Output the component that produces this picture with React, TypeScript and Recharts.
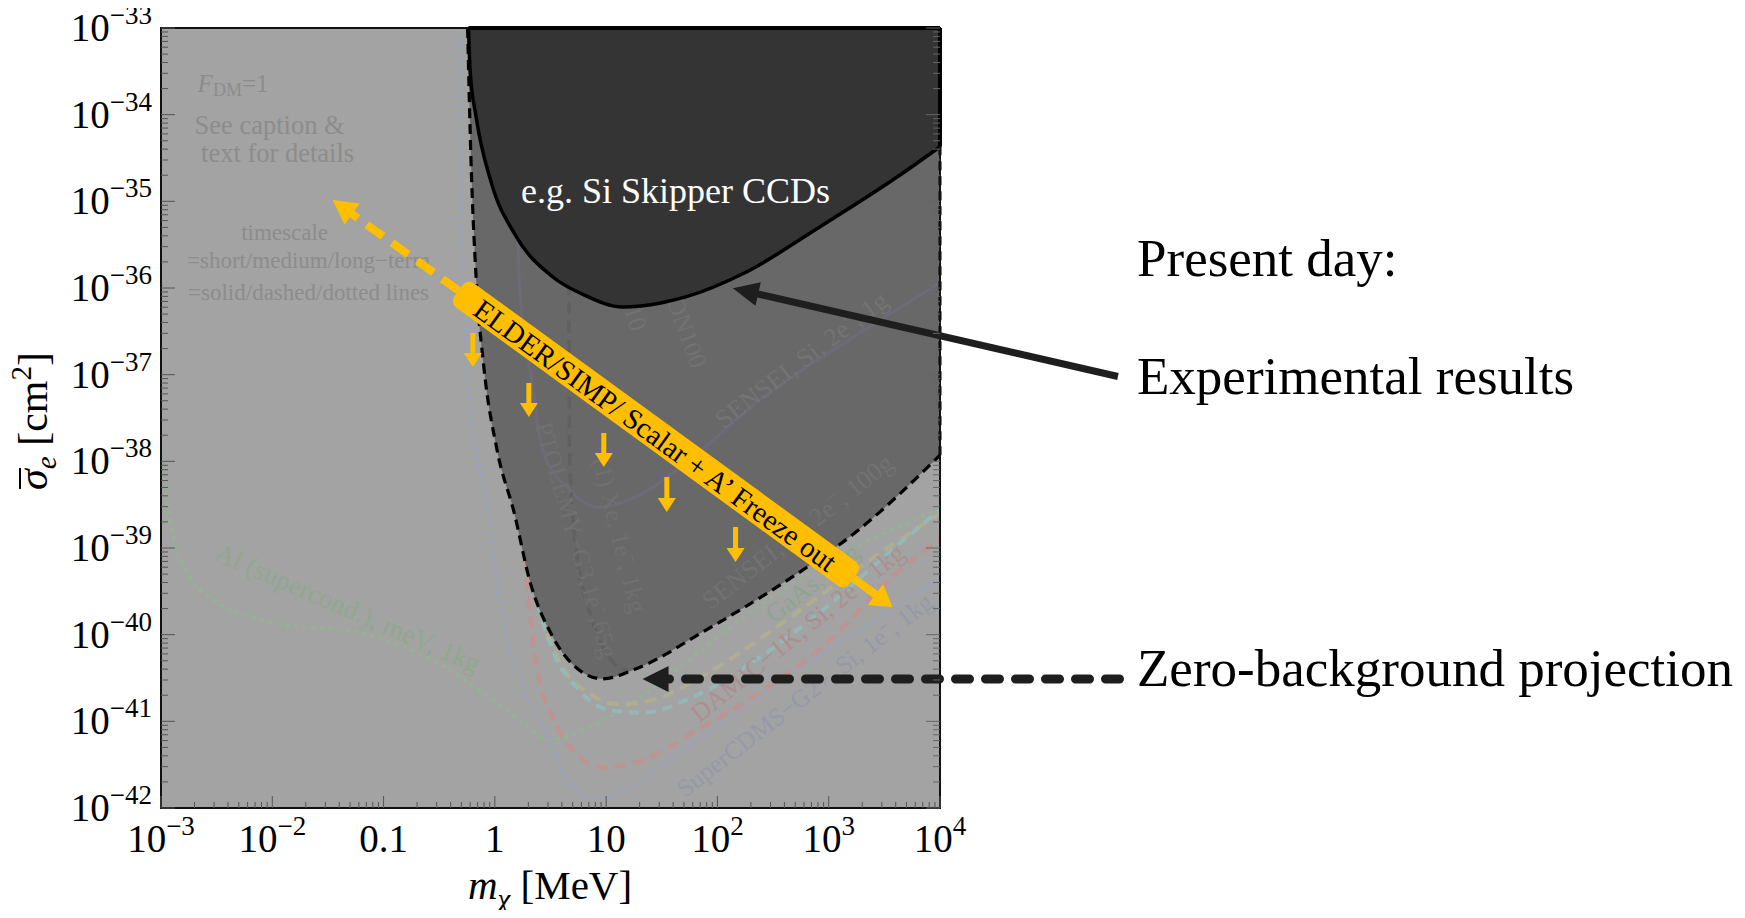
import React from "react";
import {
  ComposedChart,
  Area,
  Line,
  XAxis,
  YAxis,
  CartesianGrid,
  ReferenceArea,
  ReferenceLine,
  ReferenceDot,
} from "recharts";

const FONT = '"Liberation Serif", "Times New Roman", Times, serif';
const YELLOW = "#ffbf00";
const INK = "#1e1e1e";

// everything is plotted in log10 units
const TOP = -33;
const BOTTOM = -42;
const M_MIN = -3;
const M_MAX = 4;

// x axis: log10(m_chi / MeV)
const xDecades = [-3, -2, -1, 0, 1, 2, 3, 4];
const xDecadeLabels: [string, string][] = [
  ["10", "−3"],
  ["10", "−2"],
  ["0.1", ""],
  ["1", ""],
  ["10", ""],
  ["10", "2"],
  ["10", "3"],
  ["10", "4"],
];

// y axis: log10(sigma_e / cm^2)
const yDecades = [-42, -41, -40, -39, -38, -37, -36, -35, -34, -33];
const yDecadeLabels = ["−42", "−41", "−40", "−39", "−38", "−37", "−36", "−35", "−34", "−33"];

// Si skipper-CCD exclusion (solid boundary)
const skipperM = [-0.237, -0.222, -0.169, -0.031, 0.175, 0.518, 0.8, 1.15, 1.5, 1.722, 2.238, 2.926, 3.614, 4.0];
const skipperS = [-33, -33.5, -34.02, -34.79, -35.37, -35.87, -36.08, -36.22, -36.17, -36.1, -35.83, -35.29, -34.72, -34.37];

// zero-background projection (dashed boundary)
const projM = [-0.245, -0.215, -0.169, -0.1, 0.02, 0.175, 0.312, 0.518, 0.76, 0.966, 1.276, 1.893, 2.582, 3.27, 4.0];
const projS = [-33, -34.5, -35.87, -36.9, -37.87, -38.6, -39.37, -40.02, -40.41, -40.51, -40.39, -39.95, -39.41, -38.79, -37.93];

// projected reaches of individual experiments
const alM = [-3.0, -2.86, -2.56, -1.96, -1.21, -0.61, -0.02, 0.22, 0.49, 0.85, 1.18, 2.08, 3.0, 4.0];
const alS = [-37.9, -39.02, -39.57, -39.87, -39.98, -40.26, -40.75, -40.98, -41.21, -41.07, -40.83, -39.95, -39.15, -38.55];

const cdmsM = [-0.32, -0.3, -0.23, -0.075, 0.04, 0.22, 0.465, 0.67, 0.88, 1.12, 1.48, 2.08, 2.67, 3.28, 4.0];
const cdmsS = [-33, -34.98, -37.29, -38.45, -39.6, -40.52, -41.13, -41.71, -41.88, -41.83, -41.53, -40.98, -40.44, -39.95, -39.35];

const damicM = [0.09, 0.13, 0.2, 0.285, 0.375, 0.52, 0.73, 0.97, 1.33, 1.78, 2.38, 2.98, 3.57, 4.0];
const damicS = [-33, -36.14, -37.87, -39.33, -40.37, -40.95, -41.37, -41.53, -41.45, -41.13, -40.67, -40.1, -39.33, -38.9];

const gaasM = [0.05, 0.2, 0.375, 0.52, 0.73, 1.03, 1.33, 1.78, 2.38, 2.98, 3.57, 4.0];
const gaasS = [-33, -37.5, -39.52, -40.18, -40.6, -40.87, -40.9, -40.72, -40.26, -39.68, -39.02, -38.56];

const ptolemyM = [0.12, 0.2, 0.3, 0.42, 0.6, 0.85, 1.1, 1.4, 1.9, 2.6, 3.3, 4.0];
const ptolemyS = [-33, -37.2, -38.9, -39.75, -40.35, -40.68, -40.8, -40.76, -40.45, -39.85, -39.2, -38.6];

const senseiM = [0.18, 0.22, 0.33, 0.43, 0.67, 0.94, 1.33, 1.78, 2.38, 3.28, 4.0];
const senseiS = [-33, -35.94, -37.06, -37.87, -38.33, -38.53, -38.37, -37.95, -37.29, -36.52, -35.94];

const xenonM = [0.665, 0.67, 0.72, 0.88, 1.05, 1.2];
const xenonS = [-35.5, -37.87, -38.9, -39.85, -40.3, -40.42];

// ELDER/SIMP freeze-out band: arrow tip, band ends, arrow tip
const freezeM = [-1.458, -0.326, 3.222, 3.572];
const freezeS = [-34.985, -36.03, -39.35, -39.68];

// downward arrows under the band
const dropM = [-0.198, 0.3055, 0.979, 1.545, 2.163];
const dropTopS = [-36.519, -37.096, -37.673, -38.181, -38.758];
const dropTipS = [-36.911, -37.488, -38.066, -38.585, -39.162];

// callout arrows (start outside the frame, tip on the curves)
const resultArrowM = [5.599, 2.138];
const resultArrowS = [-37.021, -36.003];
const projArrowM = [5.613, 1.327];
const projArrowS = [-40.511, -40.511];

const withMinors = (decades: number[]) => {
  const out: number[] = [];
  decades.forEach((d, i) => {
    out.push(d);
    if (i < decades.length - 1) for (let k = 2; k <= 9; k++) out.push(d + Math.log10(k));
  });
  return out;
};
const xTicks = withMinors(xDecades);
const yTicks = withMinors(yDecades);
const isDecade = (v: number) => Math.abs(v - Math.round(v)) < 1e-6;

const rows = (m: number[], s: number[]) =>
  m.map((v, i) => ({ m: v, s: s[i], span: [s[i], TOP] }));

const skipperRows = rows(skipperM, skipperS);
const projRows = rows(projM, projS);

function XTick(props: any) {
  const { x, y, payload } = props;
  const v = payload.value;
  const major = isDecade(v);
  const lbl = major ? xDecadeLabels[xDecades.indexOf(Math.round(v))] : null;
  return (
    <g>
      <line x1={x} x2={x} y1={y} y2={y - (major ? 12 : 6)} stroke="#555" strokeWidth={1} />
      {lbl && (
        <text x={x} y={y + 44} textAnchor="middle" fontFamily={FONT} fontSize={39} fill="#000">
          {lbl[0]}
          {lbl[1] && (
            <tspan dy={-17} fontSize={27}>
              {lbl[1]}
            </tspan>
          )}
        </text>
      )}
    </g>
  );
}

function YTick(props: any) {
  const { x, y, payload } = props;
  const v = payload.value;
  const major = isDecade(v);
  const lbl = major ? yDecadeLabels[yDecades.indexOf(Math.round(v))] : null;
  return (
    <g>
      <line x1={x} x2={x + (major ? 14 : 7)} y1={y} y2={y} stroke="#555" strokeWidth={1} />
      {lbl && (
        <text x={x - 9} y={y + 13} textAnchor="end" fontFamily={FONT} fontSize={39} fill="#000">
          10
          <tspan dy={-17} fontSize={27}>
            {lbl}
          </tspan>
        </text>
      )}
    </g>
  );
}

function TopTick(props: any) {
  const { x, y, payload } = props;
  const len = isDecade(payload.value) ? 12 : 6;
  return <line x1={x} x2={x} y1={y} y2={y + len} stroke="#666" strokeWidth={1} />;
}

function RightTick(props: any) {
  const { x, y, payload } = props;
  const len = isDecade(payload.value) ? 14 : 7;
  return <line x1={x} x2={x - len} y1={y} y2={y} stroke="#666" strokeWidth={1} />;
}

// line + filled head, drawn between the two segment ends
const arrowShape =
  (color: string, width: number, head: number, half: number, dash?: string, cap: "round" | "butt" = "butt") =>
  (p: any) => {
    const { x1, y1, x2, y2 } = p;
    const a = Math.atan2(y2 - y1, x2 - x1);
    const bx = x2 - head * Math.cos(a);
    const by = y2 - head * Math.sin(a);
    const nx = -Math.sin(a) * half;
    const ny = Math.cos(a) * half;
    return (
      <g>
        <line
          x1={x1}
          y1={y1}
          x2={bx + Math.cos(a) * 2}
          y2={by + Math.sin(a) * 2}
          stroke={color}
          strokeWidth={width}
          strokeDasharray={dash}
          strokeLinecap={cap}
        />
        <polygon points={`${x2},${y2} ${bx + nx},${by + ny} ${bx - nx},${by - ny}`} fill={color} />
      </g>
    );
  };

const bandShape = (p: any) => {
  const { x1, y1, x2, y2 } = p;
  const len = Math.hypot(x2 - x1, y2 - y1);
  const deg = (Math.atan2(y2 - y1, x2 - x1) * 180) / Math.PI;
  return (
    <g transform={`translate(${x1},${y1}) rotate(${deg})`}>
      <rect x={0} y={-15} width={len} height={30} rx={8} fill={YELLOW} />
      <text
        x={len / 2}
        y={1}
        textAnchor="middle"
        dominantBaseline="central"
        fontFamily={FONT}
        fontSize={29}
        fill="#000"
      >
        ELDER/SIMP/ Scalar + A’ Freeze out
      </text>
    </g>
  );
};

type Note = {
  m: number;
  s: number;
  angle: number;
  size: number;
  color: string;
  anchor?: "start" | "middle" | "end";
  central?: boolean;
  body: React.ReactNode;
};

const noteShape = (n: Note) => (p: any) => (
  <text
    x={p.cx}
    y={p.cy}
    transform={n.angle ? `rotate(${n.angle} ${p.cx} ${p.cy})` : undefined}
    textAnchor={n.anchor ?? "middle"}
    dominantBaseline={n.central ? "central" : "alphabetic"}
    fontFamily={FONT}
    fontSize={n.size}
    fill={n.color}
  >
    {n.body}
  </text>
);

// captions on the light part of the plot
const lightNotes: Note[] = [
  {
    m: -2.671, s: -33.738, angle: 0, size: 25, color: "#8c8c8c", anchor: "start",
    body: (
      <>
        <tspan fontStyle="italic">F</tspan>
        <tspan fontSize={18} dy={4}>DM</tspan>
        <tspan dy={-4}>=1</tspan>
      </>
    ),
  },
  { m: -2.024, s: -34.223, angle: 0, size: 26.5, color: "#8c8c8c", body: "See caption &" },
  { m: -1.952, s: -34.546, angle: 0, size: 26.5, color: "#8c8c8c", body: "text for details" },
  { m: -1.889, s: -35.446, angle: 0, size: 23, color: "#8c8c8c", body: "timescale" },
  { m: -1.674, s: -35.769, angle: 0, size: 23, color: "#8c8c8c", body: "=short/medium/long−term" },
  { m: -1.674, s: -36.138, angle: 0, size: 23, color: "#8c8c8c", body: "=solid/dashed/dotted lines" },
  { m: -1.323, s: -39.692, angle: 23.4, size: 27, color: "#8fa88f", central: true, body: "Al (supercond.), meV, 1kg" },
  { m: 2.855, s: -39.404, angle: -38, size: 26, color: "#8ea58f", central: true, body: "GaAs, 1kg" },
  { m: 2.72, s: -39.98, angle: -39, size: 26, color: "#ab8f8f", central: true, body: "DAMIC−1K, Si, 2e⁻, 1kg" },
  { m: 2.783, s: -40.696, angle: -37.7, size: 25, color: "#9599a8", central: true, body: "SuperCDMS−G2+, Si, 1e⁻, 1kg" },
];

// captions lying under the grey projection region
const midNotes: Note[] = [
  { m: 2.756, s: -36.831, angle: -37, size: 26, color: "#747474", central: true, body: "SENSEI, Si, 2e⁻, 1g" },
  { m: 2.72, s: -38.815, angle: -38, size: 26, color: "#727272", central: true, body: "SENSEI, Si, 2e⁻, 100g" },
  { m: 0.734, s: -38.907, angle: 74, size: 25, color: "#707070", central: true, body: "PTOLEMY−G3,1e⁻,65g" },
  { m: 1.121, s: -38.85, angle: 76, size: 25, color: "#707070", central: true, body: "(1) Xe, 1e⁻, 1kg" },
  { m: 1.3, s: -36.485, angle: 72, size: 25, color: "#727272", anchor: "end", central: true, body: "XENON10" },
  { m: 1.838, s: -36.911, angle: 70, size: 25, color: "#727272", anchor: "end", central: true, body: "XENON100" },
];

const faintLines = [
  { key: "al", m: alM, s: alS, color: "#92b592", dash: "0.1 8.5", width: 4, cap: "round" as const },
  { key: "cdms", m: cdmsM, s: cdmsS, color: "#99a3bf", dash: "0.1 8.5", width: 4, cap: "round" as const },
  { key: "ptolemy", m: ptolemyM, s: ptolemyS, color: "#b3b08c", dash: "12 7", width: 4, cap: "butt" as const },
  { key: "damic", m: damicM, s: damicS, color: "#c29090", dash: "12 7", width: 4.5, cap: "butt" as const },
  { key: "gaas", m: gaasM, s: gaasS, color: "#90bcbc", dash: "10 7", width: 4, cap: "butt" as const },
];

const annotationStyle: React.CSSProperties = {
  position: "absolute",
  left: 1137,
  fontSize: 53,
  lineHeight: 1,
  whiteSpace: "nowrap",
  color: "#000",
};

export default function App() {
  return (
    <div style={{ position: "relative", width: 1745, height: 918, margin: -8, fontFamily: FONT, background: "#fff" }}>
      <ComposedChart width={1745} height={918} margin={{ top: 28, right: 805, bottom: 0, left: 0 }}>
        <CartesianGrid horizontal={false} vertical={false} fill="#a3a3a3" />
        <XAxis
          dataKey="m"
          type="number"
          domain={[M_MIN, M_MAX]}
          allowDataOverflow
          ticks={xTicks}
          interval={0}
          tick={XTick}
          tickLine={false}
          axisLine={false}
          tickSize={0}
          tickMargin={0}
          height={110}
        />
        <XAxis
          xAxisId="top"
          orientation="top"
          mirror
          type="number"
          domain={[M_MIN, M_MAX]}
          allowDataOverflow
          ticks={xTicks}
          interval={0}
          tick={TopTick}
          tickLine={false}
          axisLine={false}
          tickSize={0}
          tickMargin={0}
        />
        <YAxis
          type="number"
          domain={[BOTTOM, TOP]}
          allowDataOverflow
          ticks={yTicks}
          interval={0}
          tick={YTick}
          tickLine={false}
          axisLine={false}
          tickSize={0}
          tickMargin={0}
          width={161}
        />
        <YAxis
          yAxisId="right"
          orientation="right"
          mirror
          type="number"
          domain={[BOTTOM, TOP]}
          allowDataOverflow
          ticks={yTicks}
          interval={0}
          tick={RightTick}
          tickLine={false}
          axisLine={false}
          tickSize={0}
          tickMargin={0}
        />

        {faintLines.map((l) => (
          <Line
            key={l.key}
            data={rows(l.m, l.s)}
            dataKey="s"
            type="monotone"
            stroke={l.color}
            strokeWidth={l.width}
            strokeDasharray={l.dash}
            strokeLinecap={l.cap}
            strokeOpacity={0.85}
            dot={false}
            activeDot={false}
            isAnimationActive={false}
            zIndex={10}
          />
        ))}
        {lightNotes.map((n, i) => (
          <ReferenceDot key={`ln${i}`} x={n.m} y={n.s} r={0} shape={noteShape(n)} zIndex={15} />
        ))}

        <Area
          data={projRows}
          dataKey="span"
          type="monotone"
          stroke="none"
          fill="#686868"
          fillOpacity={1}
          isAnimationActive={false}
          activeDot={false}
          zIndex={20}
        />

        <Line
          data={rows(senseiM, senseiS)}
          dataKey="s"
          type="monotone"
          stroke="#6f6a7a"
          strokeWidth={3}
          dot={false}
          activeDot={false}
          isAnimationActive={false}
          zIndex={30}
        />
        <Line
          data={rows(xenonM, xenonS)}
          dataKey="s"
          type="monotone"
          stroke="#606060"
          strokeWidth={3.5}
          strokeDasharray="12 7"
          dot={false}
          activeDot={false}
          isAnimationActive={false}
          zIndex={30}
        />
        {midNotes.map((n, i) => (
          <ReferenceDot key={`mn${i}`} x={n.m} y={n.s} r={0} shape={noteShape(n)} zIndex={32} />
        ))}

        <Area
          data={skipperRows}
          dataKey="span"
          type="monotone"
          stroke="none"
          fill="#343434"
          fillOpacity={1}
          isAnimationActive={false}
          activeDot={false}
          zIndex={40}
        />
        <Line
          data={skipperRows}
          dataKey="s"
          type="monotone"
          stroke="#000"
          strokeWidth={3.5}
          dot={false}
          activeDot={false}
          isAnimationActive={false}
          zIndex={50}
        />
        <Line
          data={projRows}
          dataKey="s"
          type="monotone"
          stroke="#000"
          strokeWidth={3.2}
          strokeDasharray="10 6"
          dot={false}
          activeDot={false}
          isAnimationActive={false}
          zIndex={50}
        />
        <ReferenceLine
          segment={[{ x: M_MAX, y: projS[projS.length - 1] }, { x: M_MAX, y: skipperS[skipperS.length - 1] }]}
          stroke="#000"
          strokeWidth={3}
          strokeDasharray="9 6"
          zIndex={50}
        />

        <ReferenceArea
          x1={M_MIN}
          x2={M_MAX}
          y1={BOTTOM}
          y2={TOP}
          fill="none"
          stroke="#111"
          strokeWidth={2}
          zIndex={55}
        />
        <ReferenceLine
          segment={[{ x: skipperM[0], y: TOP }, { x: M_MAX, y: TOP }]}
          stroke="#000"
          strokeWidth={4}
          zIndex={56}
        />
        <ReferenceLine
          segment={[{ x: M_MAX, y: TOP }, { x: M_MAX, y: skipperS[skipperS.length - 1] }]}
          stroke="#000"
          strokeWidth={4}
          zIndex={56}
        />

        <ReferenceLine
          segment={[{ x: freezeM[1], y: freezeS[1] }, { x: freezeM[0], y: freezeS[0] }]}
          shape={arrowShape(YELLOW, 8, 24, 13, "20 11")}
          zIndex={70}
        />
        <ReferenceLine
          segment={[{ x: freezeM[2], y: freezeS[2] }, { x: freezeM[3], y: freezeS[3] }]}
          shape={arrowShape(YELLOW, 8, 21, 13)}
          zIndex={70}
        />
        {dropM.map((m, i) => (
          <ReferenceLine
            key={`drop${i}`}
            segment={[{ x: m, y: dropTopS[i] }, { x: m, y: dropTipS[i] }]}
            shape={arrowShape(YELLOW, 5, 14, 9)}
            zIndex={70}
          />
        ))}
        <ReferenceLine
          segment={[{ x: freezeM[1], y: freezeS[1] }, { x: freezeM[2], y: freezeS[2] }]}
          shape={bandShape}
          zIndex={72}
        />

        <ReferenceLine
          segment={[{ x: resultArrowM[0], y: resultArrowS[0] }, { x: resultArrowM[1], y: resultArrowS[1] }]}
          ifOverflow="visible"
          shape={arrowShape(INK, 7, 26, 12)}
          zIndex={80}
        />
        <ReferenceLine
          segment={[{ x: projArrowM[0], y: projArrowS[0] }, { x: projArrowM[1], y: projArrowS[1] }]}
          ifOverflow="visible"
          shape={arrowShape(INK, 9, 26, 13, "14 16", "round")}
          zIndex={80}
        />

        <ReferenceDot
          x={1.624}
          y={-34.88}
          r={0}
          zIndex={75}
          shape={(p: any) => (
            <text
              x={p.cx}
              y={p.cy}
              textAnchor="middle"
              dominantBaseline="central"
              fontFamily={FONT}
              fontSize={36}
              fill="#fff"
            >
              e.g. Si Skipper CCDs
            </text>
          )}
        />
      </ComposedChart>

      {/* axis titles */}
      <div
        style={{
          position: "absolute",
          left: 33,
          top: 421,
          transform: "translate(-50%, -50%) rotate(-90deg)",
          fontSize: 42,
          lineHeight: 1,
          whiteSpace: "nowrap",
        }}
      >
        <span style={{ position: "relative", fontStyle: "italic" }}>
          σ
          <span style={{ position: "absolute", left: 1, right: -1, top: 9, borderTop: "2px solid #000" }} />
        </span>
        <span style={{ fontStyle: "italic", fontSize: 29, position: "relative", top: 9 }}>e</span>
        {" [cm"}
        <span style={{ fontSize: 29, position: "relative", top: -16 }}>2</span>]
      </div>
      <div
        style={{
          position: "absolute",
          left: 550,
          top: 865,
          transform: "translateX(-50%)",
          fontSize: 41,
          lineHeight: 1,
          whiteSpace: "nowrap",
        }}
      >
        <span style={{ fontStyle: "italic" }}>m</span>
        <span style={{ fontStyle: "italic", fontSize: 29, position: "relative", top: 10 }}>χ</span>
        {" [MeV]"}
      </div>

      {/* callout texts */}
      <div style={{ ...annotationStyle, top: 276 - 44 }}>Present day:</div>
      <div style={{ ...annotationStyle, top: 394 - 44 }}>Experimental results</div>
      <div style={{ ...annotationStyle, top: 686 - 44 }}>Zero-background projection</div>
    </div>
  );
}
